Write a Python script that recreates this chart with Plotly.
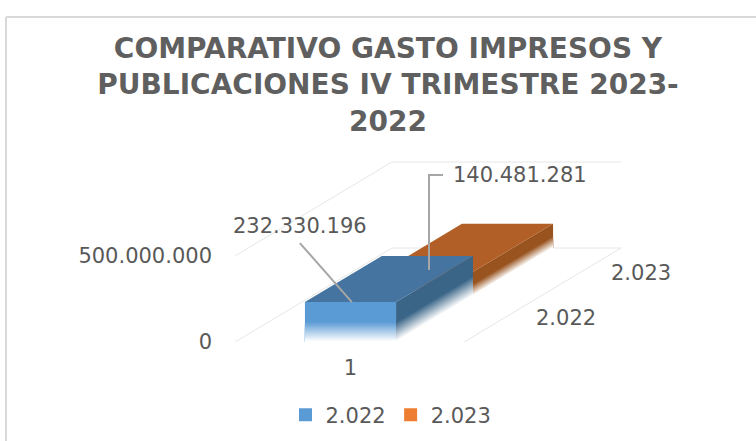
import plotly.graph_objects as go

# ---- data ----
TITLE_LINES = ["COMPARATIVO GASTO IMPRESOS Y", "PUBLICACIONES IV TRIMESTRE 2023-", "2022"]
categories = [1]
series_names = ["2.022", "2.023"]
values_2022 = [232330196]
values_2023 = [140481281]
value_ticks = [0, 500000000]
value_tick_labels = ["0", "500.000.000"]

W, H = 756, 441
TXT = "#595959"
GRID = "#E6E6E6"
FONT = "DejaVu Sans"
FS = 21

# value scale (px per unit) and oblique depth projection
PX_PER_CAT = 229.0
PX_PER_VAL = 86.0 / 5e8
X0_PIX, Y0_PIX = 350.5, 342.0
DEPTH_DX = 157.0 / PX_PER_CAT          # category units for full depth
DEPTH_DY = 94.0 / PX_PER_VAL           # value units for full depth
xrange_ = [1 - X0_PIX / PX_PER_CAT, 1 + (W - X0_PIX) / PX_PER_CAT]
yrange_ = [-(H - Y0_PIX) / PX_PER_VAL, Y0_PIX / PX_PER_VAL]
TOP_VAL = value_ticks[-1]


def P(x, v, d):
    return x + d * DEPTH_DX, v + d * DEPTH_DY


def mix(hex_col, t):
    r, g, b = (int(hex_col[i:i + 2], 16) for i in (1, 3, 5))
    return "rgb(%d,%d,%d)" % tuple(round(c + (255 - c) * t) for c in (r, g, b))


fig = go.Figure()


def poly(pts, color, width=0):
    xs = [p[0] for p in pts] + [pts[0][0]]
    ys = [p[1] for p in pts] + [pts[0][1]]
    fig.add_trace(go.Scatter(x=xs, y=ys, mode="lines", fill="toself", fillcolor=color,
                             line=dict(width=width, color=color), showlegend=False, hoverinfo="skip"))


def line(pts, color, width=1):
    fig.add_trace(go.Scatter(x=[p[0] for p in pts], y=[p[1] for p in pts], mode="lines",
                             line=dict(width=width, color=color), showlegend=False, hoverinfo="skip"))


def faded_face(corner, color, val, fade=0.48, steps=14):
    """corner(v) gives the polygon of a face between value 0 and value v."""
    poly(corner(val), color)
    for i in range(steps):
        t = (i + 1) / steps
        poly(corner(val * fade * (1 - i / steps)), mix(color, t))
    line(corner(0)[:2], "#FFFFFF", 2)


def bar(cat, val, d0, d1, front, top, side):
    xl, xr = cat - 0.199, cat + 0.199
    faded_face(lambda v: [P(xl, 0, d0), P(xr, 0, d0), P(xr, v, d0), P(xl, v, d0)], front, val)
    faded_face(lambda v: [P(xr, 0, d0), P(xr, 0, d1), P(xr, v, d1), P(xr, v, d0)], side, val)
    poly([P(xl, val, d0), P(xr, val, d0), P(xr, val, d1), P(xl, val, d1)], top)


# walls and floor
xa, xb = 1 - 115.5 / PX_PER_CAT, 1 + 113.5 / PX_PER_CAT
line([P(xa, 0, 0), P(xa, 0, 1), P(xb, 0, 1), P(xb, 0, 0)], GRID)
line([P(xa, TOP_VAL, 0), P(xa, TOP_VAL, 1), P(xb, TOP_VAL, 1)], GRID)

# bars, back to front
bar(categories[0], values_2023[0], 0.49, 1.0, "#ED7D31", "#B15F26", "#98531F")
bar(categories[0], values_2022[0], 0.0, 0.49, "#5B9BD5", "#44749F", "#3A6587")

# leader lines
lx1, ly1 = P(1.006, values_2022[0], 0)
line([(lx1 - 52 / PX_PER_CAT, ly1 + 59 / PX_PER_VAL), (lx1, ly1)], "#A6A6A6", 2)
line([(1 + 92.5 / PX_PER_CAT, (Y0_PIX - 175) / PX_PER_VAL),
      (1 + 78.5 / PX_PER_CAT, (Y0_PIX - 175) / PX_PER_VAL),
      (1 + 78.5 / PX_PER_CAT, (Y0_PIX - 270) / PX_PER_VAL)], "#A6A6A6", 2)

# legend entries
for name, col in zip(series_names, ["#5B9BD5", "#ED7D31"]):
    fig.add_trace(go.Scatter(x=[None], y=[None], mode="markers", name=name,
                             marker=dict(symbol="square", size=13, color=col)))

notes = [
    (f"{values_2022[0]:,}".replace(",", "."), 1 - 50.5 / PX_PER_CAT, (Y0_PIX - 226) / PX_PER_VAL),
    (f"{values_2023[0]:,}".replace(",", "."), 1 + 169.5 / PX_PER_CAT, (Y0_PIX - 175) / PX_PER_VAL),
    (series_names[0], 1 + 215.5 / PX_PER_CAT, (Y0_PIX - 318) / PX_PER_VAL),
    (series_names[1], 1 + 290.5 / PX_PER_CAT, (Y0_PIX - 273) / PX_PER_VAL),
]

fig.update_layout(
    width=W, height=H, margin=dict(l=0, r=0, t=0, b=0),
    paper_bgcolor="white", plot_bgcolor="white", hovermode=False,
    font=dict(family=FONT, size=FS, color=TXT),
    title=dict(text="<br>".join(TITLE_LINES), x=388 / W, xanchor="center", y=1 - 58 / H, yanchor="top",
               font=dict(family="DejaVu Sans", size=28, color="#5F5F5F", weight=700)),
    xaxis=dict(range=xrange_, tickvals=categories, ticktext=[str(c) for c in categories],
               showgrid=False, zeroline=False, showline=False, ticks="", anchor="free",
               position=(H - Y0_PIX) / H, ticklabelstandoff=11,
               tickfont=dict(family=FONT, size=FS, color=TXT)),
    yaxis=dict(range=yrange_, tickvals=value_ticks, ticktext=value_tick_labels,
               showgrid=False, zeroline=False, showline=False, ticks="", anchor="free",
               position=212 / W, tickfont=dict(family=FONT, size=FS, color=TXT)),
    legend=dict(orientation="h", x=391 / W, xanchor="center", y=1 - 415 / H, yanchor="middle",
                font=dict(family=FONT, size=FS, color=TXT), bgcolor="rgba(0,0,0,0)"),
    shapes=[
        dict(type="line", xref="paper", yref="paper", x0=6 / W, x1=1, y0=1 - 17 / H, y1=1 - 17 / H,
             line=dict(color="#D9D9D9", width=2)),
        dict(type="line", xref="paper", yref="paper", x0=6 / W, x1=6 / W, y0=0, y1=1 - 17 / H,
             line=dict(color="#D9D9D9", width=2)),
    ],
    annotations=[dict(text=t, x=x, y=y, xref="x", yref="y", showarrow=False,
                      font=dict(family=FONT, size=FS, color=TXT)) for t, x, y in notes],
)

fig.write_html("out.html", config={"displayModeBar": False},
               post_script="document.body.style.margin='0';")
